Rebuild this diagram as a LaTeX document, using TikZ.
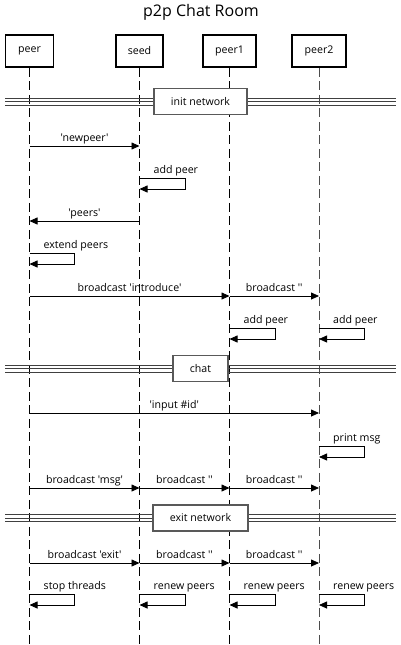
\documentclass[tikz,border=0pt]{standalone}
\usepackage{fontspec}
% plain family: keeps the straight quotes of the message names
\newfontfamily\sdfont{Open Sans}
\usetikzlibrary{arrows.meta}

% sequence diagram helpers
\newcommand\sdmsg[4]{% from, to, y, label
  \draw[msgline] (#1 |- 0,#3) -- node[msglabel, anchor=base, yshift=4.5pt] {#4} (#2 |- 0,#3);}
\newcommand\sdself[5]{% lifeline, top y, bottom y, right x, label
  \draw[msgline] (#1 |- 0,#2) -| (#4,#3) -- (#1 |- 0,#3);
  \node[msglabel, anchor=base west] at ([xshift=14pt, yshift=4.5pt]#1 |- 0,#2) {#5};}
\newcommand\sddivider[4]{% name, y, label, box width
  \foreach \dy in {-3.4,0,3.4}
    \draw[divline] (5,#2+\dy) -- (396,#2+\dy);
  \node[divbox, minimum width=#4] (#1) at (200.5,#2) {#3};}

\begin{document}
\begin{tikzpicture}[
    x=1pt, y=-1pt,
    font=\sdfont\fontsize{10.6}{12}\selectfont,
    actor/.style={draw, line width=1.5pt, minimum height=32pt, inner sep=0pt, fill=white},
    lifeline/.style={line width=0.9pt, dash pattern=on 9pt off 4.5pt},
    msgline/.style={line width=0.8pt, -{Triangle[length=8pt, width=7pt]}},
    msglabel/.style={inner sep=0pt},
    divline/.style={line width=0.8pt, black!75},
    divbox/.style={draw=black!65, line width=1.2pt, fill=white, minimum height=26pt, inner sep=0pt},
  ]
  \useasboundingbox (0,0) rectangle (401,645);

  \node[font=\sdfont\fontsize{16}{19}\selectfont] (title) at (201,12) {p2p Chat Room};

  % participants
  \node[actor, minimum width=48pt] (peer)  at (29.5,51) {peer};
  \node[actor, minimum width=47pt] (seed)  at (139.5,51) {seed};
  \node[actor, minimum width=53pt] (peer1) at (229.5,51) {peer1};
  \node[actor, minimum width=54pt] (peer2) at (319,51) {peer2};

  % lifelines
  \foreach \p in {peer,seed,peer1}
    \draw[lifeline] (\p.south) -- (\p.south |- 0,645);
  \draw[lifeline, black!70] (peer2.south) -- (peer2.south |- 0,645);

  % init network
  \sddivider{init}{101.5}{init network}{93pt}
  \sdmsg{peer}{seed}{146}{'newpeer'}
  \sdself{seed}{178}{189}{185}{add peer}
  \sdmsg{seed}{peer}{221}{'peers'}
  \sdself{peer}{253}{264}{74}{extend peers}
  \sdmsg{peer}{peer1}{296}{broadcast 'introduce'}
  \sdmsg{peer1}{peer2}{296}{broadcast ''}
  \sdself{peer1}{328}{339}{275}{add peer}
  \sdself{peer2}{328}{339}{364}{add peer}

  % chat
  \sddivider{chat}{368.5}{chat}{55pt}
  \sdmsg{peer}{peer2}{413}{'input \#id'}
  \sdself{peer2}{446}{457}{364}{print msg}
  \sdmsg{peer}{seed}{488}{broadcast 'msg'}
  \sdmsg{seed}{peer1}{488}{broadcast ''}
  \sdmsg{peer1}{peer2}{488}{broadcast ''}

  % exit network
  \sddivider{exit}{518}{exit network}{95pt}
  \sdmsg{peer}{seed}{563}{broadcast 'exit'}
  \sdmsg{seed}{peer1}{563}{broadcast ''}
  \sdmsg{peer1}{peer2}{563}{broadcast ''}
  \sdself{peer}{594}{605}{74}{stop threads}
  \sdself{seed}{594}{605}{185}{renew peers}
  \sdself{peer1}{594}{605}{275}{renew peers}
  \sdself{peer2}{594}{605}{364}{renew peers}
\end{tikzpicture}
\end{document}
